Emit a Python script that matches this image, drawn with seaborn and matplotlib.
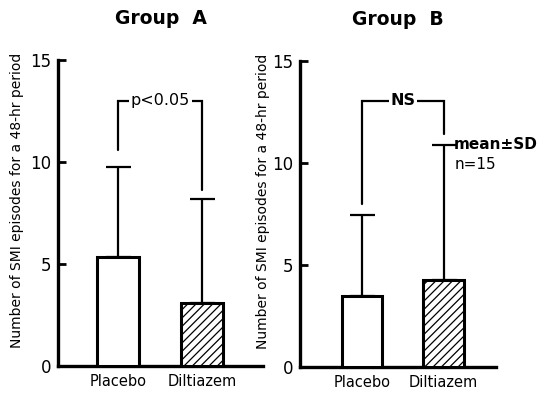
import matplotlib
matplotlib.use("Agg")
import matplotlib.pyplot as plt
import seaborn as sns
import pandas as pd
import numpy as np

# ---- data ----
categories = ["Placebo", "Diltiazem"]
groups = ["Group A", "Group B"]
means_a = [5.35, 3.1]
sd_a = [4.4, 5.1]
means_b = [3.45, 4.25]
sd_b = [4.0, 6.65]
yticks = [0, 5, 10, 15]
sig_labels = ["p<0.05", "NS"]
ylabel = "Number of SMI episodes for a 48-hr period"

sns.set_theme(style="white")
plt.rcParams["font.family"] = ["DejaVu Sans"]
plt.rcParams["text.color"] = "black"
plt.rcParams["axes.labelcolor"] = "black"
plt.rcParams["xtick.color"] = "black"
plt.rcParams["ytick.color"] = "black"
plt.rcParams["hatch.linewidth"] = 0.9

fig = plt.figure(figsize=(5.38, 3.94), dpi=100)
axA = fig.add_axes([0.1078, 0.0718, 0.381, 0.776])
axB = fig.add_axes([0.5576, 0.0693, 0.364, 0.776])

panels = [
    (axA, means_a, sd_a, (-0.72, 1.72), sig_labels[0], (13.0, 10.6, 8.6), -0.165),
    (axB, means_b, sd_b, (-0.76, 1.64), sig_labels[1], (13.05, 8.0, 11.4), -0.155),
]

for i, (ax, means, sds, xlim, sig, br, lx) in enumerate(panels):
    df = pd.DataFrame({"cond": categories, "val": means})
    sns.barplot(data=df, x="cond", y="val", ax=ax, width=0.5,
                color="white", edgecolor="black", linewidth=2.2,
                errorbar=None, zorder=3)
    for j, p in enumerate(ax.patches):
        p.set_facecolor("white")
        if j == 1:
            p.set_hatch("////")
    xs = np.arange(len(categories))
    ax.errorbar(xs, means, yerr=[np.zeros(len(sds)), sds], fmt="none",
                ecolor="black", elinewidth=1.6, capsize=9, capthick=1.6, zorder=2)
    # significance bracket
    top, lft, rgt = br
    ax.plot([0, 0, 1, 1], [lft, top, top, rgt], color="black", lw=1.6,
            solid_joinstyle="miter", zorder=2)
    ax.text(0.5, top, sig, ha="center", va="center", fontsize=11.5,
            fontweight="bold" if sig == "NS" else "normal",
            bbox=dict(facecolor="white", edgecolor="none", pad=1.0), zorder=4)
    ax.set_xlim(*xlim)
    ax.set_ylim(0, 15)
    ax.set_yticks(yticks)
    ax.set_yticklabels([str(t) for t in yticks], fontsize=12)
    ax.tick_params(axis="y", direction="in", length=6, width=2, pad=5, left=True)
    ax.tick_params(axis="x", length=0, pad=6, labelsize=10.5)
    ax.set_xlabel("")
    ax.set_ylabel(ylabel, fontsize=10)
    ax.yaxis.set_label_coords(lx, 0.54)
    for s in ["top", "right"]:
        ax.spines[s].set_visible(False)
    for s in ["left", "bottom"]:
        ax.spines[s].set_linewidth(2.4)
        ax.spines[s].set_color("black")
    ax.set_facecolor("none")
    ax.set_title(groups[i].replace(" ", "  "), fontsize=13.5, fontweight="bold",
                 pad=26)

axB.text(1.13, 10.9, "mean\u00b1SD", ha="left", va="center", fontsize=11, fontweight="bold")
axB.text(1.13, 9.9, "n=15", ha="left", va="center", fontsize=11)

fig.savefig("out.png", dpi=100)
